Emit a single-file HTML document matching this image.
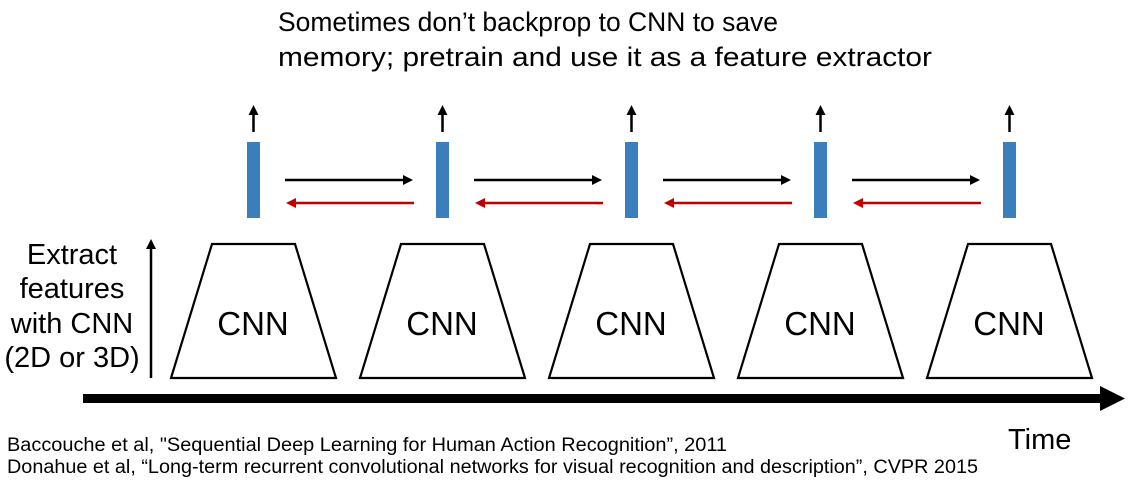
<!DOCTYPE html>
<html><head><meta charset="utf-8"><style>
html,body{margin:0;padding:0;background:#fff;}
svg{display:block;font-family:"Liberation Sans",Arial,sans-serif;}
</style></head><body>
<svg id="d" width="1140" height="481" viewBox="0 0 1140 481">
<defs>
<marker id="ab" markerWidth="4" markerHeight="4" refX="2" refY="2" orient="auto" markerUnits="strokeWidth"><path d="M0,0 L4,2 L0,4z" fill="#000"/></marker>
<marker id="ar" markerWidth="4" markerHeight="4" refX="2" refY="2" orient="auto" markerUnits="strokeWidth"><path d="M0,0 L4,2 L0,4z" fill="#c00000"/></marker>
</defs>
<text x="278" y="31" font-size="27" textLength="500" lengthAdjust="spacingAndGlyphs">Sometimes don’t backprop to CNN to save</text>
<text x="278" y="66" font-size="27" textLength="654" lengthAdjust="spacingAndGlyphs">memory; pretrain and use it as a feature extractor</text>
<g font-size="29" text-anchor="middle">
<text x="72" y="264">Extract</text><text x="72" y="298">features</text><text x="72" y="333">with CNN</text><text x="72" y="367">(2D or 3D)</text>
</g>
<line x1="151" y1="378" x2="151" y2="244" stroke="#000" stroke-width="2.5" marker-end="url(#ab)"/>
<rect x="83" y="394" width="1020" height="9" fill="#000"/>
<path d="M1100,386 L1125,398.5 L1100,411z" fill="#000"/>
<text x="1008" y="449" font-size="29">Time</text>
<text x="7" y="451" font-size="19" textLength="720" lengthAdjust="spacingAndGlyphs">Baccouche et al, "Sequential Deep Learning for Human Action Recognition”, 2011</text>
<text x="7" y="473" font-size="19" textLength="971" lengthAdjust="spacingAndGlyphs">Donahue et al, “Long-term recurrent convolutional networks for visual recognition and description”, CVPR 2015</text>
<g id="units"></g>
</svg>
<script>
const steps=[0,1,2,3,4];
const x0=253, dx=189;
const g=document.getElementById('units');
const NS='http://www.w3.org/2000/svg';
function mk(t,a){const e=document.createElementNS(NS,t);for(const k in a)e.setAttribute(k,a[k]);g.appendChild(e);return e;}
steps.forEach((s,i)=>{
 const c=x0+s*dx;
 const tr=mk('path',{d:`M${c-41},244 L${c+42},244 L${c+83},378 L${c-82},378Z`,fill:'#fff',stroke:'#000','stroke-width':2.2});
 
 
 const tx=mk('text',{x:c,y:335,'font-size':33,'text-anchor':'middle'});tx.textContent='CNN';
 
 
 const b=mk('rect',{x:c-6,y:142,width:13,height:76,fill:'#3a7ebb'});
 
 
 const up=mk('line',{x1:c+0.5,y1:132,x2:c+0.5,y2:110,stroke:'#000','stroke-width':2.5,'marker-end':'url(#ab)'});
 
 
 if(i<steps.length-1){
  const f=mk('line',{x1:c+32,y1:180,x2:c+155,y2:180,stroke:'#000','stroke-width':2.5,'marker-end':'url(#ab)'});
  
  
  const r=mk('line',{x1:c+161,y1:203,x2:c+38,y2:203,stroke:'#c00000','stroke-width':2.5,'marker-end':'url(#ar)'});
  
  
 }
});
</script>
</body></html>
